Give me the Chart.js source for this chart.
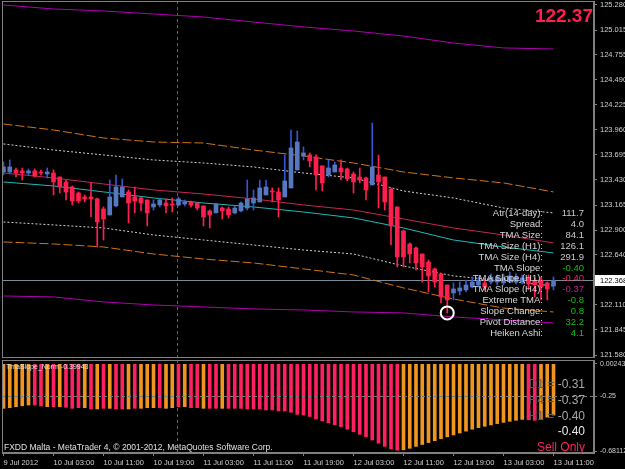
<!DOCTYPE html>
<html><head><meta charset="utf-8">
<script src="https://cdn.jsdelivr.net/npm/chart.js@4.4.1/dist/chart.umd.min.js"></script>
<style>
html,body{margin:0;padding:0;background:#000;}
#wrap{position:relative;width:625px;height:469px;background:#000;overflow:hidden;font-family:"Liberation Sans",Arial,sans-serif;}
#c1{position:absolute;left:0;top:0;width:625px;height:358px;}
#c2{position:absolute;left:0;top:358px;width:625px;height:111px;}
.t{position:absolute;white-space:nowrap;}
</style></head><body>
<div id="wrap">
<canvas id="c1" width="625" height="358"></canvas>
<canvas id="c2" width="625" height="111"></canvas>
<div id="overlay"></div>
</div>
<script>
// ---------- DATA ----------
const timeLabels = ['9 Jul 2012','10 Jul 03:00','10 Jul 11:00','10 Jul 19:00','11 Jul 03:00','11 Jul 11:00','11 Jul 19:00','12 Jul 03:00','12 Jul 11:00','12 Jul 19:00','13 Jul 03:00','13 Jul 11:00'];
const labelBars = [0,8,16,24,32,40,48,56,64,72,80,88];

const opens = [123.515,123.515,123.536,123.526,123.504,123.526,123.515,123.494,123.504,123.462,
123.409,123.356,123.293,123.251,123.251,123.230,123.124,123.060,123.156,123.251,
123.304,123.251,123.240,123.219,123.145,123.166,123.187,123.177,123.166,123.177,
123.198,123.187,123.156,123.103,123.082,123.134,123.124,123.082,123.103,123.134,
123.187,123.198,123.272,123.314,123.304,123.251,123.346,123.536,123.684,123.695,
123.674,123.579,123.483,123.515,123.557,123.547,123.494,123.462,123.452,123.378,
123.483,123.462,123.335,123.145,122.891,122.754,122.712,122.648,122.564,122.490,
122.437,122.320,122.236,122.257,122.268,122.299,122.320,122.342,122.352,122.352,
122.342,122.363,122.352,122.352,122.395,122.363,122.373,122.342,122.310];
const highs = [123.621,123.642,123.557,123.557,123.547,123.547,123.536,123.557,123.536,123.462,
123.430,123.367,123.304,123.272,123.399,123.240,123.145,123.430,123.483,123.441,
123.325,123.356,123.251,123.219,123.219,123.240,123.230,123.240,123.251,123.219,
123.208,123.187,123.156,123.113,123.187,123.145,123.145,123.156,123.198,123.430,
123.325,123.430,123.430,123.346,123.346,123.695,123.959,123.948,123.779,123.716,
123.695,123.579,123.642,123.621,123.642,123.557,123.515,123.557,123.462,124.033,
123.695,123.462,123.346,123.145,122.902,122.765,122.722,122.648,122.585,122.500,
122.447,122.320,122.342,122.352,122.373,122.405,122.405,122.373,122.437,122.426,
122.437,122.458,122.437,122.426,122.426,122.395,122.405,122.352,122.405];
const lows = [123.483,123.494,123.462,123.430,123.483,123.462,123.483,123.452,123.272,123.293,
123.219,123.166,123.187,123.198,123.039,122.722,122.796,123.060,123.145,123.251,
122.976,123.082,123.103,122.944,123.113,123.145,123.082,123.092,123.156,123.156,
123.145,123.113,122.944,122.923,123.082,123.018,123.029,123.071,123.092,123.113,
123.113,123.198,123.272,123.198,123.039,123.251,123.346,123.536,123.642,123.568,
123.325,123.314,123.462,123.515,123.430,123.420,123.293,123.399,123.219,123.378,
123.134,123.113,122.743,122.511,122.511,122.553,122.479,122.352,122.247,122.299,
122.130,122.025,122.162,122.215,122.247,122.289,122.299,122.268,122.331,122.320,
122.320,122.342,122.331,122.331,122.268,122.194,122.162,122.162,122.268];
const closes = [123.568,123.568,123.504,123.504,123.526,123.473,123.504,123.515,123.409,123.356,
123.304,123.208,123.208,123.230,123.230,122.987,123.018,123.251,123.356,123.356,
123.187,123.208,123.187,123.082,123.177,123.219,123.156,123.166,123.230,123.198,
123.166,123.134,123.039,123.060,123.177,123.103,123.060,123.134,123.187,123.230,
123.240,123.346,123.356,123.304,123.219,123.420,123.769,123.832,123.716,123.632,
123.483,123.399,123.557,123.589,123.515,123.441,123.409,123.430,123.325,123.568,
123.409,123.198,122.944,122.617,122.617,122.648,122.553,122.511,122.416,122.352,
122.194,122.162,122.278,122.289,122.320,122.352,122.363,122.299,122.405,122.405,
122.395,122.416,122.405,122.395,122.331,122.320,122.299,122.278,122.368];

// band lines sampled at bandBars
const bandBars   = [0,8,16,24,32,40,48,56,64,72,80,88];
const outerUpper = [125.280,125.238,125.217,125.185,125.153,125.100,125.048,125.005,124.952,124.878,124.826,124.815];
const h4Upper    = [124.022,123.959,123.874,123.832,123.821,123.747,123.684,123.610,123.515,123.452,123.399,123.304];
const h1Upper    = [123.811,123.747,123.695,123.642,123.610,123.568,123.504,123.452,123.314,123.240,123.134,123.082];
const tmaH4      = [123.504,123.452,123.388,123.325,123.282,123.230,123.166,123.113,123.018,122.923,122.849,122.765];
const tmaH1      = [123.409,123.367,123.304,123.240,123.187,123.145,123.092,123.029,122.923,122.796,122.722,122.659];
const h1Lower    = [122.986,122.955,122.923,122.849,122.796,122.743,122.690,122.648,122.521,122.416,122.363,122.310];
const h4Lower    = [122.775,122.754,122.722,122.648,122.595,122.553,122.490,122.426,122.289,122.172,122.076,122.035];
const outerLower = [122.204,122.194,122.141,122.109,122.088,122.067,122.056,122.035,122.025,121.982,121.951,121.919];

const priceTicks = [125.280,125.015,124.755,124.490,124.225,123.960,123.695,123.430,123.165,122.900,122.640,122.110,121.845,121.580];
const lastPrice = 122.368;
const cursorBar = 27.8;
const markerBar = 71, markerPrice = 122.025;

// lower indicator: TmaSlope_Norm
const slopeVals = [-0.346,-0.341,-0.333,-0.326,-0.320,-0.320,-0.328,-0.333,-0.333,-0.333,
-0.338,-0.346,-0.341,-0.341,-0.351,-0.351,-0.346,-0.346,-0.351,-0.351,
-0.351,-0.346,-0.346,-0.341,-0.341,-0.341,-0.346,-0.341,-0.333,-0.333,
-0.341,-0.341,-0.346,-0.346,-0.346,-0.346,-0.346,-0.346,-0.346,-0.351,
-0.351,-0.351,-0.359,-0.359,-0.367,-0.367,-0.377,-0.393,-0.398,-0.410,
-0.430,-0.445,-0.460,-0.475,-0.490,-0.510,-0.530,-0.550,-0.570,-0.595,
-0.620,-0.645,-0.665,-0.675,-0.672,-0.660,-0.645,-0.630,-0.615,-0.600,
-0.585,-0.570,-0.555,-0.540,-0.525,-0.510,-0.498,-0.487,-0.476,-0.466,
-0.456,-0.448,-0.440,-0.433,-0.436,-0.440,-0.430,-0.415,-0.399];
// o = orange (rising), c = crimson (falling)
const slopeColor = ('ooooo'+'ccoco'+'cccoc'+'ococc'+'ocooo'+'cooco'+'ccocc'+'occcc'+'ccccc'+
  'ccccccccccccccccccc'+'oooooooooooooooooooo'+'cc'+'ooo').split('');
const slopeTicks = [0.00243,-0.25,-0.68112];
const slopeTickLabels = ['0.00243','-0.25','-0.68112'];
const slopeLevel = -0.25;

const infoLabels = ['Atr(14-day):','Spread:','TMA Size:','TMA Size (H1):','TMA Size (H4):','TMA Slope:','TMA Slope (H1):','TMA Slope (H4):','Extreme TMA:','Slope Change:','Pivot Distance:','Heiken Ashi:'];
const infoValues = ['111.7','4.0','84.1','126.1','291.9','-0.40','-0.40','-0.37','-0.8','0.8','32.2','4.1'];
const infoValueColors = ['#c8c8c8','#c8c8c8','#c8c8c8','#c8c8c8','#c8c8c8','#10c010','#e8206a','#b0208a','#10c010','#10c010','#10c010','#10c010'];
const tfLabels = ['D1 =','H4 =','H1 ='];
const tfValues = ['-0.31','-0.37','-0.40'];

// ---------- CHARTS ----------
const GREY = '#808080';
const xMin = -0.24, xMax = -0.24 + 592/6.25;
const pts = (arr)=>bandBars.map((b,k)=>({x:b,y:arr[k]}));
const bull = closes.map((c,i)=>c>=opens[i]);
const AX_FONT = {size:7.5,family:'"Liberation Sans", Arial'};
function noPad(s){ s.paddingTop=0; s.paddingBottom=0; s.paddingLeft=0; s.paddingRight=0; }

function lineDs(arr,color,dash,w){
  return {type:'line',data:pts(arr),borderColor:color,borderWidth:w||1,borderDash:dash||[],pointRadius:0,tension:0,order:5};
}

const mainDecor = {
  id:'mainDecor',
  beforeDatasetsDraw(chart){
    const {ctx,chartArea:a,scales:{x,y}} = chart;
    ctx.save();
    ctx.lineWidth=1;
    const vx = Math.round(x.getPixelForValue(cursorBar))+0.5;
    ctx.strokeStyle='#646464'; ctx.setLineDash([3,3]);
    ctx.beginPath(); ctx.moveTo(vx,a.top); ctx.lineTo(vx,a.bottom); ctx.stroke();
    ctx.setLineDash([]);
    const py = Math.round(y.getPixelForValue(lastPrice))+0.5;
    ctx.strokeStyle='#7a8b9a';
    ctx.beginPath(); ctx.moveTo(a.left,py); ctx.lineTo(a.right,py); ctx.stroke();
    ctx.restore();
  },
  afterDraw(chart){
    const {ctx,chartArea:a,scales:{y}} = chart;
    ctx.save();
    ctx.strokeStyle=GREY; ctx.lineWidth=1;
    ctx.strokeRect(a.left+0.5,a.top+0.5,a.right-a.left-1,a.bottom-a.top);
    const py = Math.round(y.getPixelForValue(lastPrice));
    ctx.fillStyle='#ffffff';
    ctx.fillRect(a.right+1,py-5,625-a.right-1,11);
    ctx.fillStyle='#000000';
    ctx.font='7.5px "Liberation Sans", Arial';
    ctx.textBaseline='middle'; ctx.textAlign='left';
    ctx.fillText(lastPrice.toFixed(3),a.right+6,py+0.5);
    ctx.restore();
  }
};

new Chart(document.getElementById('c1'),{
  type:'bar',
  data:{datasets:[
    lineDs(outerUpper,'#b000b0'),
    lineDs(h4Upper,'#d07414',[9,3]),
    lineDs(h1Upper,'#cfcfcf',[2,2]),
    lineDs(tmaH4,'#c02858'),
    lineDs(tmaH1,'#20b8b8'),
    lineDs(h1Lower,'#cfcfcf',[2,2]),
    lineDs(h4Lower,'#d07414',[9,3]),
    lineDs(outerLower,'#b000b0'),
    {type:'bar',data:lows.map((l,i)=>({x:i,y:[l,highs[i]]})),backgroundColor:bull.map(b=>b?'#3556d0':'#ff2050'),barThickness:1,grouped:false,order:2},
    {type:'bar',data:opens.map((o,i)=>({x:i,y:[o,closes[i]]})),backgroundColor:bull.map(b=>b?'#5578c0':'#ff1f4f'),barThickness:4,minBarLength:1,grouped:false,order:1},
    {type:'scatter',data:[{x:markerBar,y:markerPrice}],pointRadius:6.5,borderWidth:2,borderColor:'#ffffff',backgroundColor:'rgba(0,0,0,0)',order:0}
  ]},
  options:{
    responsive:false,animation:false,events:[],
    layout:{autoPadding:false,padding:{left:2,top:1,bottom:1,right:0}},
    plugins:{legend:{display:false},tooltip:{enabled:false}},
    scales:{
      x:{type:'linear',min:xMin,max:xMax,offset:false,bounds:'data',display:false},
      y:{position:'right',offset:false,bounds:'data',
         afterDataLimits(s){s.min=121.58-2/94.595; s.max=125.28+4/94.595;},
         afterFit(s){s.width=31; noPad(s);},
         afterBuildTicks(s){s.ticks=priceTicks.map(v=>({value:v}));},
         ticks:{callback:(v)=>Number(v).toFixed(3),color:'#d0d0d0',font:AX_FONT,padding:3},
         grid:{drawOnChartArea:false,color:GREY,tickLength:3},
         border:{color:GREY}}
    }
  },
  plugins:[mainDecor]
});

const lowDecor = {
  id:'lowDecor',
  beforeDatasetsDraw(chart){
    const {ctx,chartArea:a,scales:{x}} = chart;
    ctx.save(); ctx.lineWidth=1;
    const vx = Math.round(x.getPixelForValue(cursorBar))+0.5;
    ctx.strokeStyle='#646464'; ctx.setLineDash([3,3]);
    ctx.beginPath(); ctx.moveTo(vx,a.top); ctx.lineTo(vx,a.bottom); ctx.stroke();
    ctx.restore();
  },
  afterDatasetsDraw(chart){
    const {ctx,chartArea:a,scales:{y}} = chart;
    ctx.save(); ctx.lineWidth=1;
    const ly = Math.round(y.getPixelForValue(slopeLevel))+0.5;
    ctx.strokeStyle='#7a7a7a'; ctx.setLineDash([3,3]);
    ctx.beginPath(); ctx.moveTo(a.left,ly); ctx.lineTo(a.right,ly); ctx.stroke();
    ctx.setLineDash([]);
    ctx.strokeStyle=GREY;
    ctx.strokeRect(a.left+0.5,a.top+0.5,a.right-a.left-1,a.bottom-a.top-1);
    ctx.restore();
  }
};

new Chart(document.getElementById('c2'),{
  type:'bar',
  data:{datasets:[
    {data:slopeVals.map((v,i)=>({x:i,y:v})),backgroundColor:slopeColor.map(c=>c==='o'?'#f0961e':'#ff2060'),barThickness:3,grouped:false}
  ]},
  options:{
    responsive:false,animation:false,events:[],
    layout:{autoPadding:false,padding:{left:2,top:2,bottom:0,right:0}},
    plugins:{legend:{display:false},tooltip:{enabled:false}},
    scales:{
      x:{type:'linear',min:xMin,max:xMax,offset:false,bounds:'data',
         afterFit(s){s.height=16; noPad(s);},
         afterBuildTicks(s){s.ticks=labelBars.map(v=>({value:v}));},
         ticks:{callback:(v)=>timeLabels[labelBars.indexOf(v)],align:'start',autoSkip:false,maxRotation:0,color:'#d0d0d0',font:AX_FONT,padding:2},
         grid:{drawOnChartArea:false,color:GREY,tickLength:3,offset:false},
         border:{color:GREY}},
      y:{position:'right',offset:false,bounds:'data',
         afterDataLimits(s){s.min=-0.68112-2/127.28; s.max=0.00243+4/127.28;},
         afterFit(s){s.width=31; noPad(s);},
         afterBuildTicks(s){s.ticks=slopeTicks.map(v=>({value:v}));},
         ticks:{callback:(v,i)=>slopeTickLabels[i],color:'#d0d0d0',font:{size:7,family:'"Liberation Sans", Arial'},padding:3},
         grid:{drawOnChartArea:false,color:GREY,tickLength:3},
         border:{color:GREY}}
    }
  },
  plugins:[lowDecor]
});

// ---------- TEXT OVERLAYS ----------
const ov = document.getElementById('overlay');
function addText(txt,style){
  const d=document.createElement('div'); d.className='t'; d.textContent=txt;
  Object.assign(d.style,style); ov.appendChild(d); return d;
}
addText(lastPrice.toFixed(2),{right:'32px',top:'6px',fontSize:'19px',lineHeight:'19px',fontWeight:'bold',color:'#ff1f4f'});
infoLabels.forEach((l,k)=>{
  const cy = 212.7+10.9*k;
  addText(l,{right:'82px',top:(cy-4.7)+'px',fontSize:'9.5px',lineHeight:'9.5px',color:'#d8d8d8',textAlign:'right'});
  addText(infoValues[k],{right:'41px',top:(cy-4.7)+'px',fontSize:'9.5px',lineHeight:'9.5px',color:infoValueColors[k],textAlign:'right'});
});
addText('TmaSlope_Norm -0.39943',{left:'6px',top:'363px',fontSize:'7px',lineHeight:'7px',color:'#e0e0e0'});
addText('FXDD Malta - MetaTrader 4, © 2001-2012, MetaQuotes Software Corp.',{left:'4px',top:'442.5px',fontSize:'8.5px',lineHeight:'8.5px',color:'#e0e0e0'});
tfLabels.forEach((l,k)=>{
  const cy = 384+15.7*k;
  const d = addText('',{right:'40px',top:(cy-5.9)+'px',fontSize:'12px',lineHeight:'12px'});
  const s1=document.createElement('span'); s1.textContent=l+' '; s1.style.color='#5a5a5a';
  const s2=document.createElement('span'); s2.textContent=tfValues[k]; s2.style.color='#a8a8a8';
  d.appendChild(s1); d.appendChild(s2);
});
addText('-0.40',{right:'40px',top:(431-5.9)+'px',fontSize:'12px',lineHeight:'12px',color:'#e8e8e8'});
addText('Sell Only',{right:'40px',top:(447-5.9)+'px',fontSize:'12px',lineHeight:'12px',color:'#ff2060'});
</script>
</body></html>
